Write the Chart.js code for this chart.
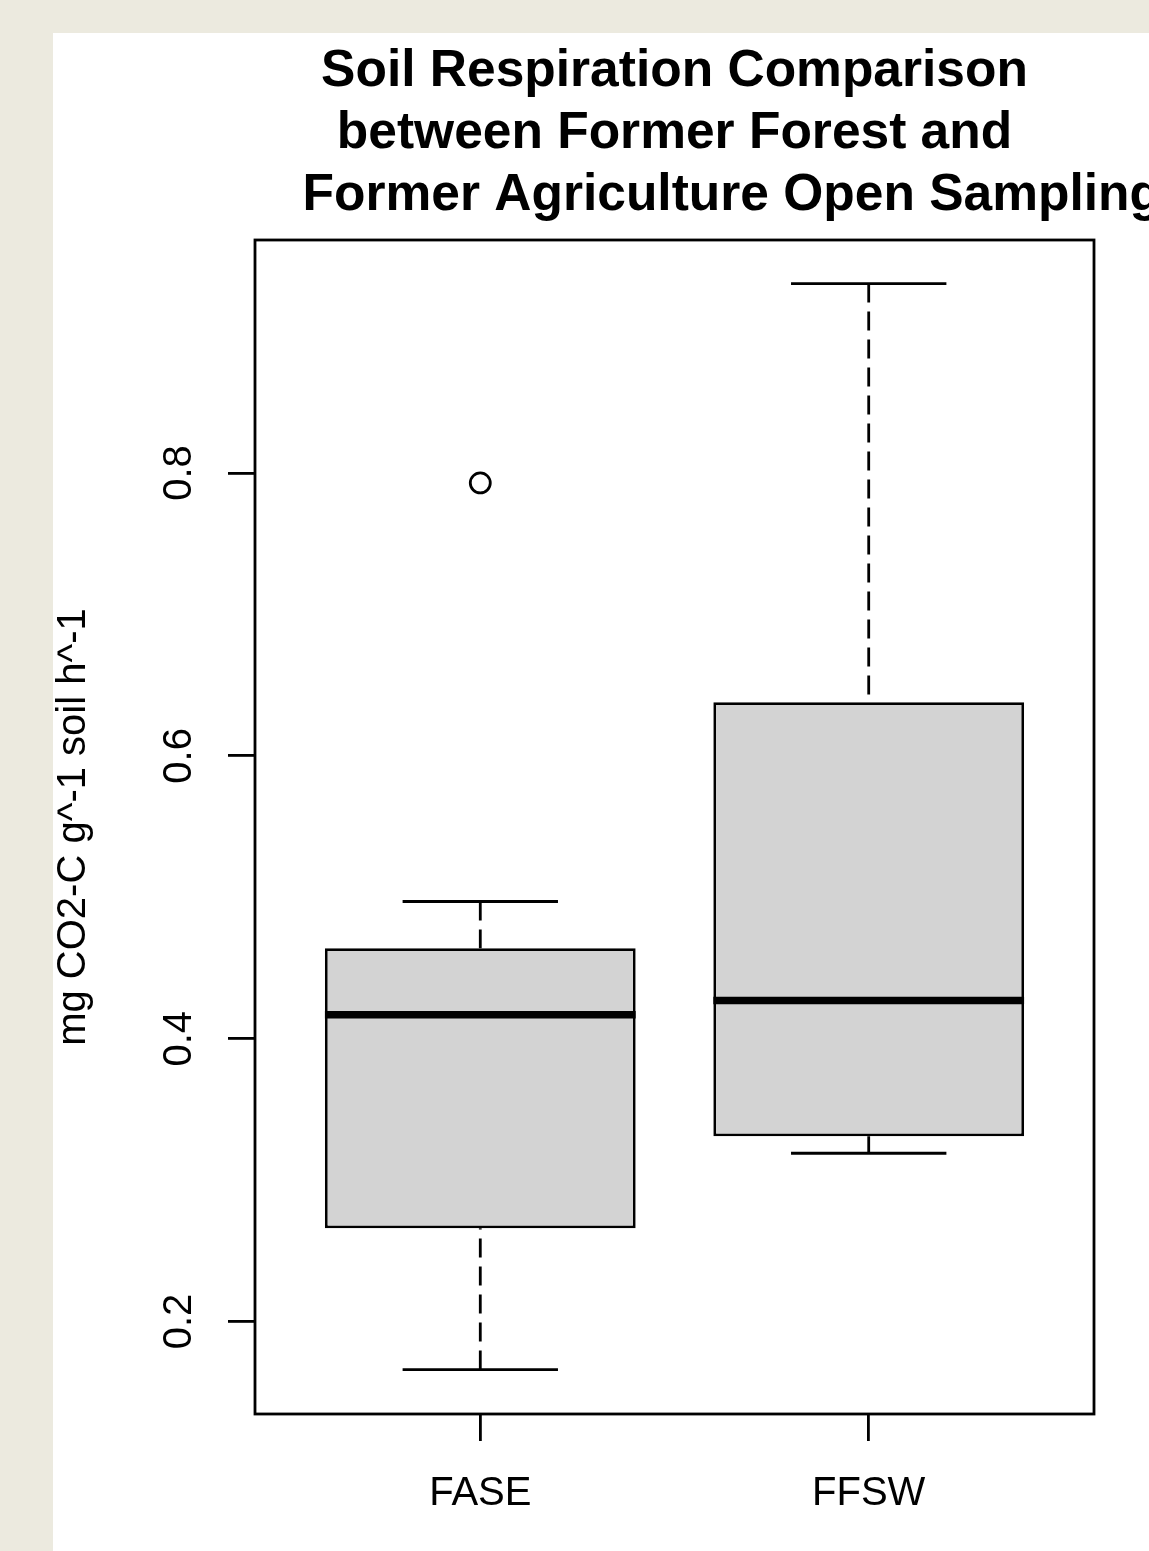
<!DOCTYPE html>
<html>
<head>
<meta charset="utf-8">
<title>Soil Respiration Comparison</title>
<script src="https://cdn.jsdelivr.net/npm/chart.js@4.4.1/dist/chart.umd.min.js"></script>
<style>
  html, body { margin: 0; padding: 0; width: 1149px; height: 1551px; overflow: hidden; background: #ECEADF; }
  #panel { position: absolute; left: 53px; top: 33px; width: 1096px; height: 1518px; background: #ffffff; overflow: hidden; }
  #chart { position: absolute; left: 0; top: 0; }
</style>
</head>
<body>
<div id="panel"><canvas id="chart" width="1243" height="1518"></canvas></div>
<script>
// Groups and their five-number summaries (mg CO2-C g^-1 soil h^-1)
const categories   = ['FASE', 'FFSW'];
const lowerWhisker = [0.166, 0.319];
const quartile1    = [0.266, 0.331];
const medians      = [0.417, 0.427];
const quartile3    = [0.464, 0.638];
const upperWhisker = [0.497, 0.934];
const outliers     = [[0.793], []];

// Axis ticks
const yTickValues = [0.2, 0.4, 0.6, 0.8];
const yTickLabels = ['0.2', '0.4', '0.6', '0.8'];

const titleLines = [
  'Soil Respiration Comparison',
  'between Former Forest and',
  '        Former Agriculture Open Sampling'
];
const yAxisLabel = 'mg CO2-C g^-1 soil h^-1';

// Box geometry in x-axis units (one unit per group)
const BOX_HALF = 0.4;
const CAP_HALF = 0.2;
const LINE_W = 2.8;

Chart.defaults.font.family = '"Liberation Sans", Arial, Helvetica, sans-serif';
Chart.defaults.color = '#000000';

// Build mark data from the summary arrays
const boxData = categories.map((c, i) => ({ x: i + 1, y: [quartile1[i], quartile3[i]] }));

const medianData = [];
const whiskerData = [];
const capData = [];
categories.forEach((c, i) => {
  const x = i + 1;
  medianData.push({ x: x - BOX_HALF, y: medians[i] }, { x: x + BOX_HALF, y: medians[i] }, { x: x + 0.5, y: null });
  whiskerData.push({ x: x, y: upperWhisker[i] }, { x: x, y: quartile3[i] }, { x: x + 0.01, y: null });
  whiskerData.push({ x: x, y: lowerWhisker[i] }, { x: x, y: quartile1[i] }, { x: x + 0.02, y: null });
  capData.push({ x: x - CAP_HALF, y: upperWhisker[i] }, { x: x + CAP_HALF, y: upperWhisker[i] }, { x: x + 0.3, y: null });
  capData.push({ x: x - CAP_HALF, y: lowerWhisker[i] }, { x: x + CAP_HALF, y: lowerWhisker[i] }, { x: x + 0.35, y: null });
});
const outlierData = categories.flatMap((c, i) => outliers[i].map(v => ({ x: i + 1, y: v })));

// Frame around the plotting region
const plotFrame = {
  id: 'plotFrame',
  afterDatasetsDraw(chart) {
    const { ctx, chartArea: a } = chart;
    ctx.save();
    ctx.strokeStyle = '#000000';
    ctx.lineWidth = LINE_W;
    ctx.strokeRect(a.left, a.top, a.right - a.left, a.bottom - a.top);
    ctx.restore();
  }
};

new Chart(document.getElementById('chart'), {
  type: 'bar',
  data: {
    datasets: [
      {
        type: 'bar',
        data: boxData,
        backgroundColor: '#D3D3D3',
        borderColor: '#000000',
        borderWidth: LINE_W,
        borderSkipped: false,
        barPercentage: 0.8,
        categoryPercentage: 1.0,
        order: 3
      },
      {
        type: 'line',
        data: whiskerData,
        borderColor: '#000000',
        borderWidth: LINE_W,
        borderDash: [19, 9],
        borderCapStyle: 'butt',
        pointRadius: 0,
        spanGaps: false,
        order: 2
      },
      {
        type: 'line',
        data: capData,
        borderColor: '#000000',
        borderWidth: LINE_W,
        pointRadius: 0,
        spanGaps: false,
        order: 1
      },
      {
        type: 'line',
        data: medianData,
        borderColor: '#000000',
        borderWidth: 7.5,
        borderCapStyle: 'butt',
        pointRadius: 0,
        spanGaps: false,
        order: 0
      },
      {
        type: 'line',
        data: outlierData,
        showLine: false,
        pointStyle: 'circle',
        pointRadius: 10,
        pointBorderWidth: LINE_W,
        pointBorderColor: '#000000',
        pointBackgroundColor: 'rgba(0,0,0,0)',
        order: 0
      }
    ]
  },
  options: {
    responsive: false,
    animation: false,
    devicePixelRatio: 1,
    layout: { padding: 0 },
    plugins: {
      legend: { display: false },
      tooltip: { enabled: false },
      title: {
        display: true,
        text: titleLines,
        color: '#000000',
        font: { size: 51.5, weight: 'bold', lineHeight: 62 / 51.5 },
        padding: { top: 8, bottom: 13 }
      }
    },
    scales: {
      x: {
        type: 'linear',
        min: 0.42,
        max: 2.58,
        offset: false,
        afterBuildTicks: s => { s.ticks = categories.map((c, i) => ({ value: i + 1 })); },
        afterFit: s => { s.height = 137; },
        ticks: {
          callback: (v, i) => categories[i],
          font: { size: 40 },
          padding: 29,
          maxRotation: 0,
          minRotation: 0
        },
        grid: { offset: false, drawOnChartArea: false, drawTicks: true, tickLength: 27, color: '#000000', lineWidth: LINE_W },
        border: { display: false }
      },
      y: {
        type: 'linear',
        position: 'left',
        min: 0.1346,
        max: 0.9648,
        afterBuildTicks: s => { s.ticks = yTickValues.map(v => ({ value: v })); },
        afterFit: s => { s.width = 202; },
        ticks: {
          callback: (v, i) => yTickLabels[i],
          font: { size: 40 },
          minRotation: 90,
          maxRotation: 90,
          crossAlign: 'center',
          padding: 20
        },
        grid: { drawOnChartArea: false, drawTicks: true, tickLength: 27, color: '#000000', lineWidth: LINE_W },
        border: { display: false },
        title: {
          display: true,
          text: yAxisLabel,
          font: { size: 40, lineHeight: 1 },
          padding: { top: 1, bottom: 0 }
        }
      },
      // empty right margin that balances the left margin
      yMargin: {
        type: 'linear',
        position: 'right',
        display: true,
        afterFit: s => { s.width = 202; },
        ticks: { display: false },
        grid: { display: false },
        border: { display: false }
      }
    }
  },
  plugins: [plotFrame]
});
</script>
</body>
</html>
